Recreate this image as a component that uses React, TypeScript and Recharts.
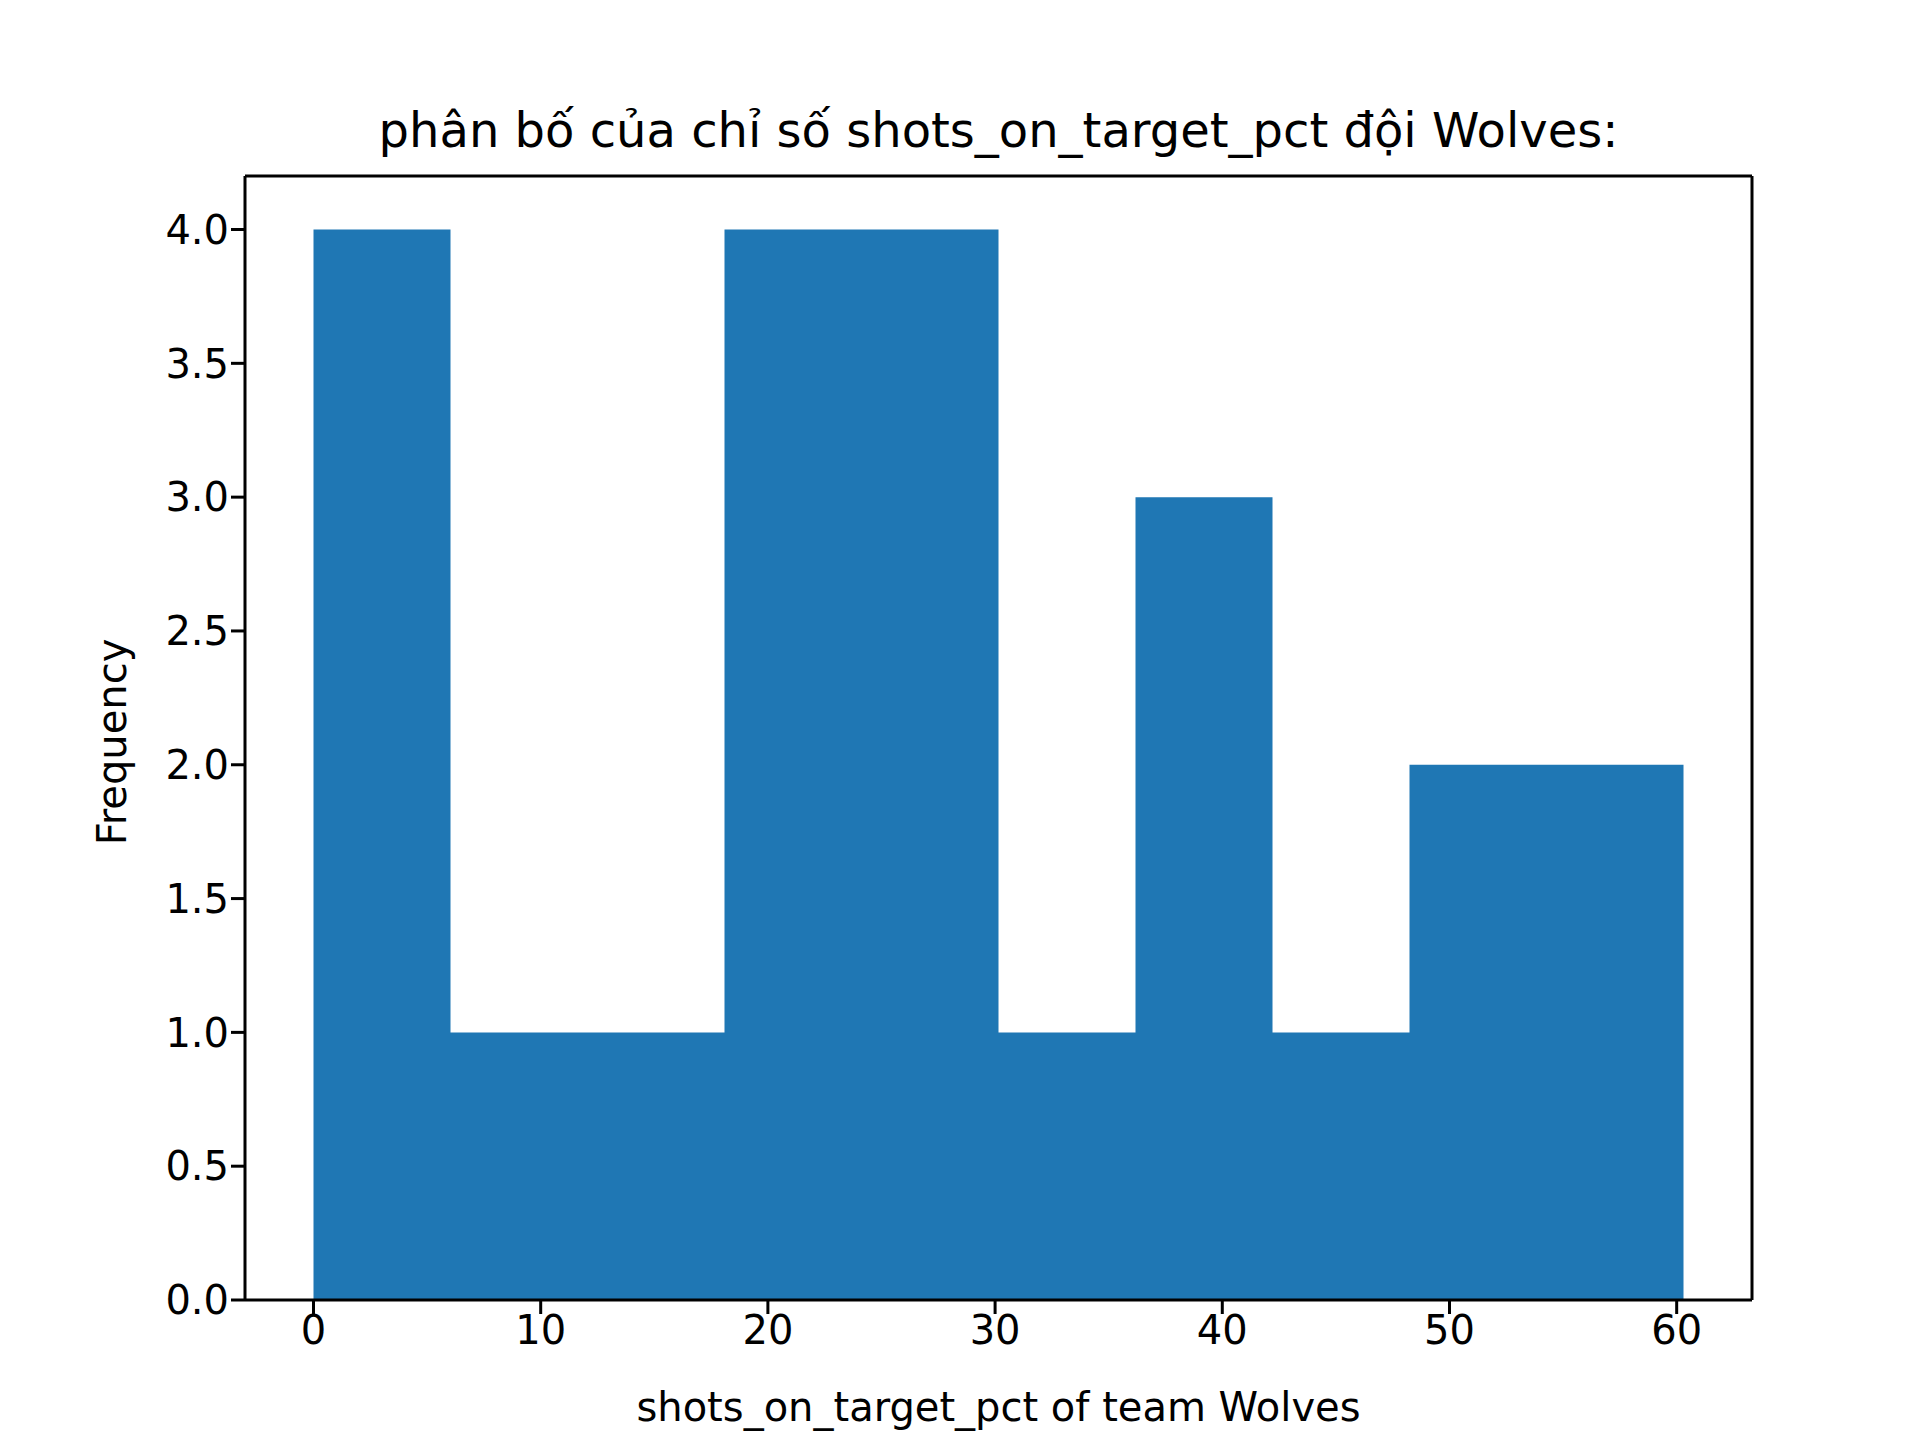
import { ComposedChart, Area, XAxis, YAxis } from "recharts"

const binEdges = [0, 6.03, 12.06, 18.09, 24.12, 30.15, 36.18, 42.21, 48.24, 54.27, 60.3]
const counts = [4, 1, 1, 4, 4, 1, 3, 1, 2, 2, 2]
const xTicks = [0, 10, 20, 30, 40, 50, 60]
const yTicks = [0, 0.5, 1, 1.5, 2, 2.5, 3, 3.5, 4]

const data = binEdges.map((x, i) => ({ x, count: counts[i] }))

const font = "'DejaVu Sans', sans-serif"
const tick = { fontSize: 40, fill: "#000", fontFamily: font }
const axisStroke = { stroke: "#000", strokeWidth: 3 }

export default function App() {
  return (
    <div style={{ position: "relative", width: 1920, height: 1440, margin: -8, background: "#fff", fontFamily: font }}>
      <div style={{ position: "absolute", top: 100, left: 245, width: 1507, textAlign: "center", fontSize: 48, lineHeight: "60px" }}>
        phân bố của chỉ số shots_on_target_pct đội Wolves:
      </div>
      <div style={{ position: "absolute", top: 1380, left: 245, width: 1507, textAlign: "center", fontSize: 40, lineHeight: "54px" }}>
        shots_on_target_pct of team Wolves
      </div>
      <div style={{ position: "absolute", left: 112, top: 742, fontSize: 40, whiteSpace: "nowrap", transform: "translate(-50%,-50%) rotate(-90deg)" }}>
        Frequency
      </div>
      <ComposedChart width={1920} height={1440} data={data} margin={{ top: 175, right: 167, bottom: 80, left: 125 }}>
        <XAxis
          dataKey="x"
          type="number"
          domain={[-3.015, 63.315]}
          ticks={xTicks}
          tick={tick}
          height={60}
          tickSize={14}
          axisLine={axisStroke}
          tickLine={axisStroke}
          interval={0}
        />
        <XAxis xAxisId="top" orientation="top" dataKey="x" type="number" domain={[-3.015, 63.315]} tick={false} tickLine={false} height={1} axisLine={axisStroke} />
        <YAxis
          type="number"
          domain={[0, 4.2]}
          ticks={yTicks}
          tickFormatter={(v: number) => v.toFixed(1)}
          tick={tick}
          width={120}
          tickSize={14}
          axisLine={axisStroke}
          tickLine={axisStroke}
          interval={0}
        />
        <YAxis yAxisId="right" orientation="right" domain={[0, 4.2]} tick={false} tickLine={false} width={1} axisLine={axisStroke} />
        <Area
          type="stepAfter"
          dataKey="count"
          fill="#1f77b4"
          fillOpacity={1}
          stroke="none"
          isAnimationActive={false}
          dot={false}
          activeDot={false}
        />
      </ComposedChart>
    </div>
  )
}
